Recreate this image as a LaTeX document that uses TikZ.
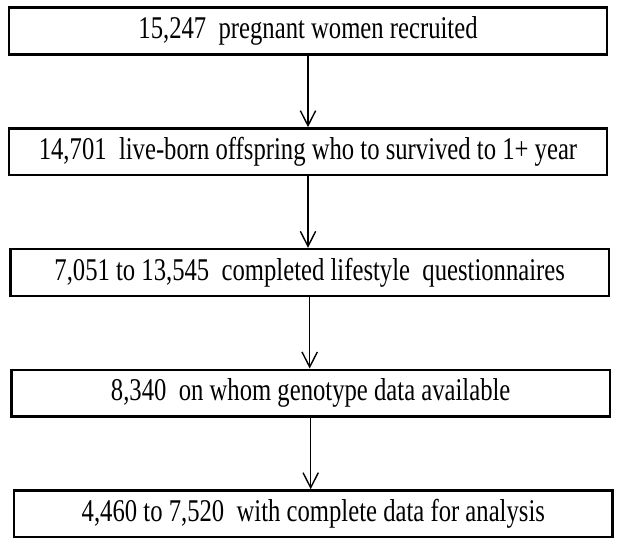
\documentclass[tikz,border=0pt]{standalone}
\usepackage{fontspec}
\setmainfont{Liberation Serif}
\usepackage{tikz}
\usetikzlibrary{positioning, arrows.meta}

\newcommand{\narrow}[1]{\scalebox{0.78}[1]{#1}}

\begin{document}
\begin{tikzpicture}[node distance=2.15cm,>={Straight Barb[length=0.45cm,width=0.46cm]},
    stage/.style={draw, line width=2pt, minimum width=17.95cm, minimum height=1.4cm, align=center, font=\fontsize{27}{30}\selectfont}]
        \useasboundingbox (0,0) rectangle (18.6,-16.32);
        % Nodes
        \node (b1) [stage] at (9.24,-0.93) {\narrow{15,247\ \ pregnant women recruited}};
        \node (b2) [stage, below=of b1] {\narrow{14,701\ \ live-born offspring who to survived to 1+ year}};
        \node (b3) [stage, below=of b2, xshift=0.05cm] {\narrow{7,051 to 13,545\ \ completed lifestyle\ \ questionnaires}};
        \node (b4) [stage, below=of b3, xshift=0.03cm] {\narrow{8,340\ \ on whom genotype data available}};
        \node (b5) [stage, below=of b4, xshift=0.08cm] {\narrow{4,460 to 7,520\ \ with complete data for analysis}};

        % Arrows
        \draw[->, line width=1.2pt] (b1.south) -- (b1.south |- b2.north);
        \draw[->, line width=1.2pt] (b2.south) -- (b2.south |- b3.north);
        \draw[->, line width=1.2pt] (b3.south) -- (b3.south |- b4.north);
        \draw[->, line width=1.2pt] (b4.south) -- (b4.south |- b5.north);

    \end{tikzpicture}
\end{document}
